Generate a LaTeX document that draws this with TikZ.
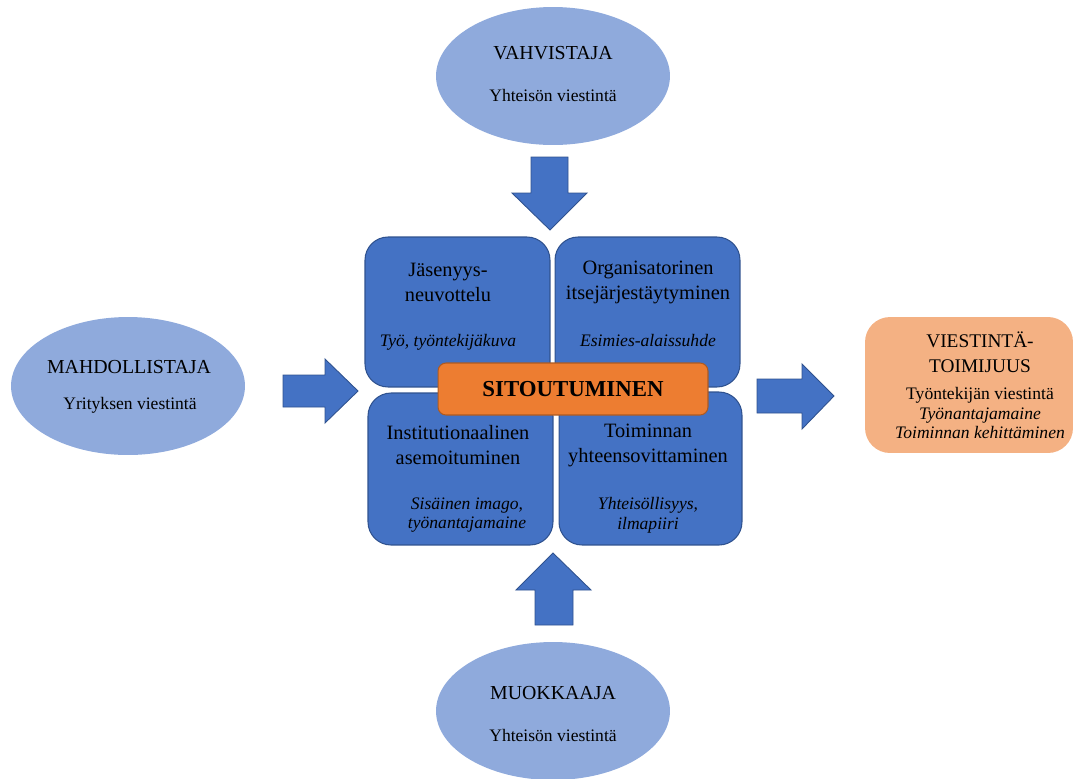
\documentclass[tikz,border=0pt]{standalone}
\usepackage{fontspec}
\setmainfont{Liberation Serif}
\usepackage{tikz}
\usetikzlibrary{shapes.geometric}

\definecolor{roolisin}{HTML}{8FAADC}
\definecolor{ruutusin}{HTML}{4472C4}
\definecolor{ruutureuna}{HTML}{2F528F}
\definecolor{ydinoranssi}{HTML}{ED7D31}
\definecolor{ydinreuna}{HTML}{AE5A21}
\definecolor{toimijaoranssi}{HTML}{F4B183}

\tikzset{
	rooli/.style={ellipse, fill=roolisin, minimum width=4.68cm, minimum height=2.76cm, inner sep=0pt},
	ruutu/.style={rectangle, rounded corners=0.46cm, fill=ruutusin, draw=ruutureuna, line width=0.6pt,
		minimum width=3.7cm, minimum height=3cm, inner sep=0pt},
	otsikko/.style={align=center, inner sep=0pt, font=\fontsize{11.6}{14.2}\selectfont},
	kursiivi/.style={align=center, inner sep=0pt, font=\fontsize{10}{11.3}\selectfont\itshape},
	roolinimi/.style={inner sep=0pt, font=\fontsize{11.3}{13}\selectfont},
	roolikanava/.style={inner sep=0pt, font=\fontsize{10}{12}\selectfont},
	nuoli/.style={fill=ruutusin, draw=ruutureuna, line width=0.5pt, line join=miter}
}

\begin{document}
\begin{tikzpicture}[x=0.02cm, y=-0.02cm]
			\useasboundingbox (0, 0) rectangle (1074, 778);
			\clip (0, 0) rectangle (1074, 778);

			% roolit
			\node[rooli] (vahvistaja) at (553, 76) {};
			\node[rooli] (mahdollistaja) at (128, 386) {};
			\node[rooli] (muokkaaja) at (553, 711) {};

			\node[roolinimi] (vahvistajanimi) at (553, 53) {VAHVISTAJA};
			\node[roolikanava] (vahvistajakanava) at (553, 95) {Yhteisön viestintä};
			\node[roolinimi] (mahdollistajanimi) at (129, 367) {MAHDOLLISTAJA};
			\node[roolikanava] (mahdollistajakanava) at (130, 405) {Yrityksen viestintä};
			\node[roolinimi] (muokkaajanimi) at (553, 693) {MUOKKAAJA};
			\node[roolikanava] (muokkaajakanava) at (553, 735) {Yhteisön viestintä};

			% nuolet
			\filldraw[nuoli] (531, 157) -- (568, 157) -- (568, 193) -- (587, 193) -- (550, 230)
				-- (512, 193) -- (531, 193) -- cycle;
			\filldraw[nuoli] (535, 625) -- (573, 625) -- (573, 590) -- (591, 590) -- (553, 553)
				-- (516, 590) -- (535, 590) -- cycle;
			\filldraw[nuoli] (283, 375) -- (325, 375) -- (325, 359) -- (358, 391) -- (325, 423)
				-- (325, 407) -- (283, 407) -- cycle;
			\filldraw[nuoli] (757, 379) -- (802, 379) -- (802, 364) -- (834, 396) -- (802, 429)
				-- (802, 413) -- (757, 413) -- cycle;

			% neljä ulottuvuutta
			\node[ruutu] (jasenyys) at (457.5, 312) {};
			\node[ruutu] (organisaatio) at (647.5, 312) {};
			\node[ruutu, minimum height=3.04cm] (instituutio) at (460.5, 469) {};
			\node[ruutu, minimum width=3.66cm, minimum height=3.06cm] (toiminta) at (650.5, 468.5) {};

			\node[otsikko] (jasenyysnimi) at (448, 282) {Jäsenyys-\\neuvottelu};
			\node[kursiivi] (jasenyysala) at (448, 342) {Työ, työntekijäkuva};
			\node[otsikko] (organisaationimi) at (648, 282) {Organisatorinen\\itsejärjestäytyminen};
			\node[kursiivi] (organisaatioala) at (648, 340) {Esimies-alaissuhde};
			\node[otsikko] (instituutionimi) at (458, 445) {Institutionaalinen\\asemoituminen};
			\node[kursiivi] (instituutioala) at (467, 515) {Sisäinen imago,\\työnantajamaine};
			\node[otsikko] (toimintanimi) at (648, 445) {Toiminnan\\yhteensovittaminen};
			\node[kursiivi] (toimintaala) at (648, 515) {Yhteisöllisyys,\\ilmapiiri};

			% ydin
			\node[rectangle, rounded corners=0.16cm, fill=ydinoranssi, draw=ydinreuna, line width=0.6pt,
				minimum width=5.4cm, minimum height=1.04cm, inner sep=0pt,
				font=\fontsize{13}{15}\selectfont\bfseries] (sitoutuminen) at (573, 389) {SITOUTUMINEN};

			% viestintätoimijuus
			\node[rectangle, rounded corners=0.5cm, fill=toimijaoranssi, minimum width=4.16cm,
				minimum height=2.72cm, inner sep=0pt] (toimijuus) at (969, 385) {};
			\node[align=center, inner sep=0pt, font=\fontsize{11}{14}\selectfont] (toimijuusnimi)
				at (980, 352) {VIESTINTÄ-\\TOIMIJUUS};
			\node[align=center, inner sep=0pt, font=\fontsize{10}{11.3}\selectfont] (toimijuusala)
				at (980, 413) {Työntekijän viestintä\\\textit{Työnantajamaine}\\\textit{Toiminnan kehittäminen}};
		\end{tikzpicture}
\end{document}
